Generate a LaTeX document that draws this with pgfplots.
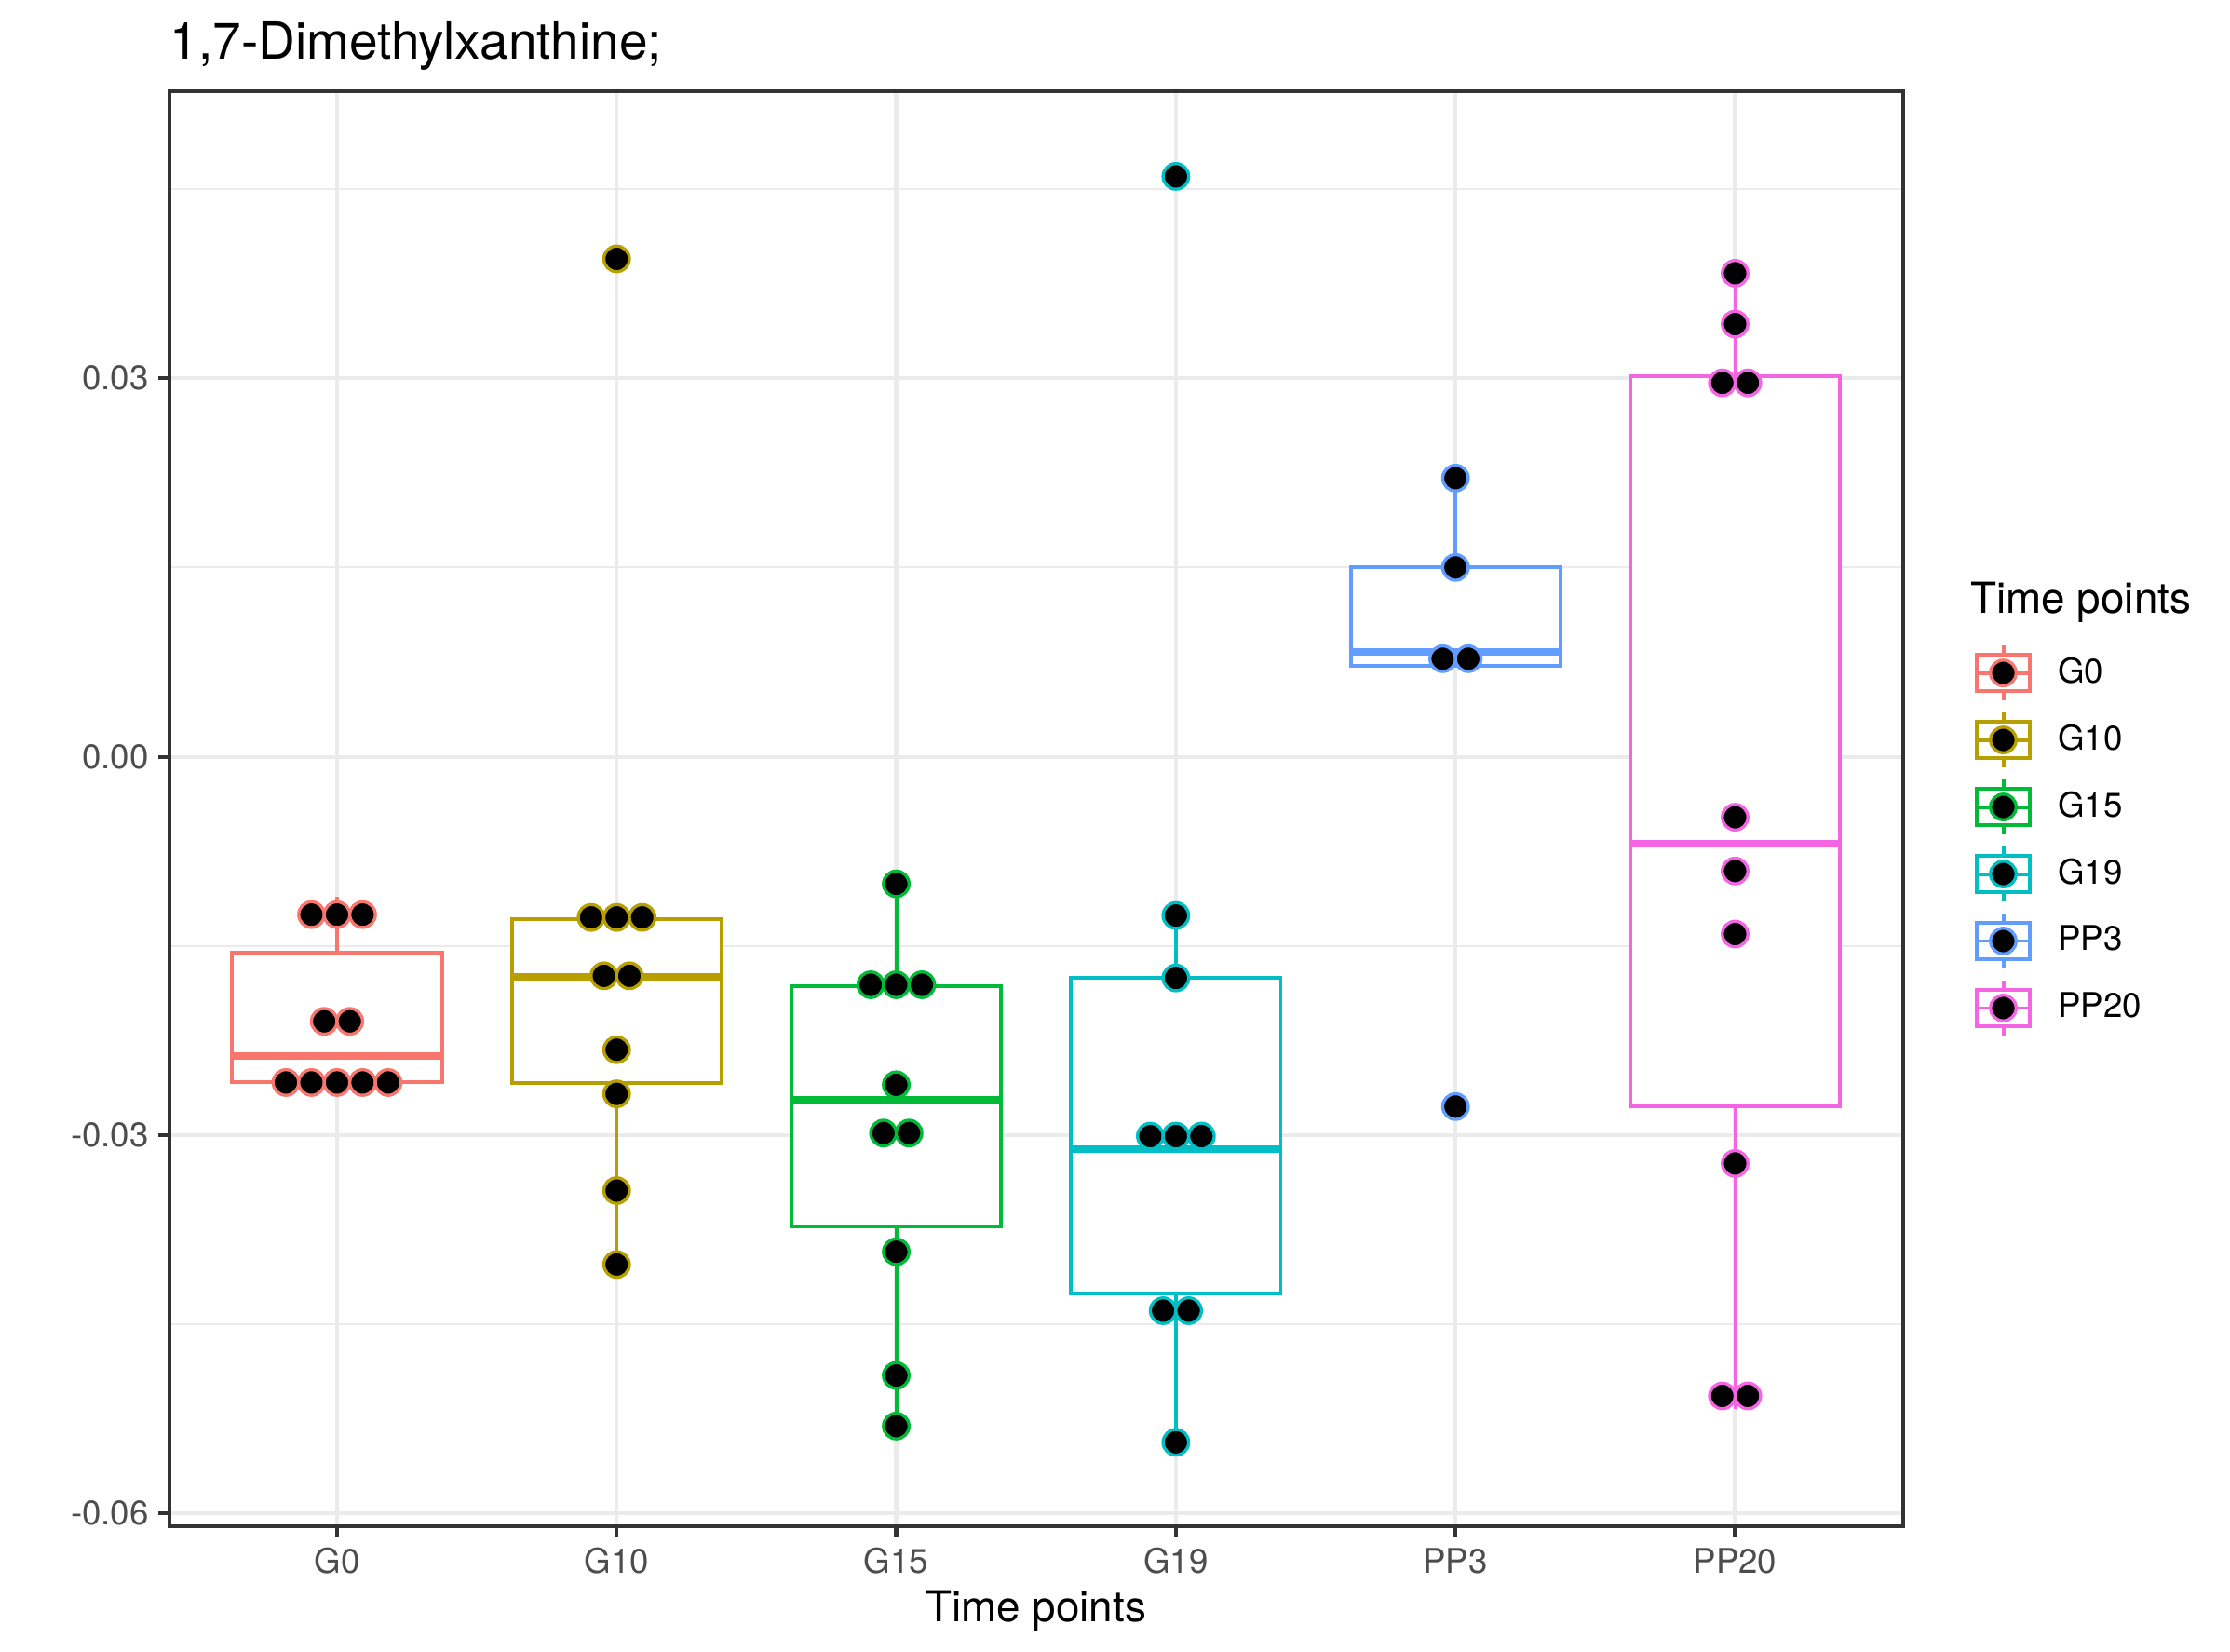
\documentclass[border=0pt]{standalone}
\usepackage{fontspec}
\setmainfont{TeX Gyre Heros}
\usepackage{pgfplots}
\pgfplotsset{compat=1.18}
\definecolor{cG0}{HTML}{F8766D}
\definecolor{cG10}{HTML}{B79F00}
\definecolor{cG15}{HTML}{00BA38}
\definecolor{cG19}{HTML}{00BFC4}
\definecolor{cPP3}{HTML}{619CFF}
\definecolor{cPP20}{HTML}{F564E3}
\definecolor{grid92}{HTML}{EBEBEB}
\definecolor{grey20}{HTML}{333333}
\definecolor{grey30}{HTML}{4D4D4D}
% #1 colour, #2 left, #3 centre, #4 right, #5 lower whisker, #6 q1, #7 median, #8 q3, #9 upper whisker
\newcommand{\gbox}[9]{%
  \addplot[#1, line width=0.95pt, forget plot] coordinates {(#3,#8) (#3,#9)};
  \addplot[#1, line width=0.95pt, forget plot] coordinates {(#3,#6) (#3,#5)};
  \addplot[#1, line width=0.95pt, fill=white, forget plot] coordinates {(#2,#6) (#4,#6) (#4,#8) (#2,#8)} -- cycle;
  \addplot[#1, line width=1.9pt, forget plot] coordinates {(#2,#7) (#4,#7)};
}
\pgfplotsset{
  mydots/.style={only marks, mark=*, forget plot, mark size=3.3pt,
    mark options={fill=black, draw=#1, line width=0.8pt}},
  keyimg/.style={legend image code/.code={
    \path[draw=none, fill=none] (0pt,-8.64pt) rectangle (17.28pt,8.64pt);
    \draw[line width=0.95pt, fill=white] (1.7pt,-4.6pt) rectangle (15.58pt,4.6pt);
    \draw[line width=0.95pt] (1.7pt,0pt) -- (15.58pt,0pt);
    \draw[line width=0.95pt] (8.64pt,4.6pt) -- (8.64pt,7pt);
    \draw[line width=0.95pt] (8.64pt,-4.6pt) -- (8.64pt,-7pt);
    \draw[line width=0.8pt, fill=black] (8.64pt,0pt) circle (3.3pt);
  }},
}
\begin{document}
\begin{tikzpicture}
\useasboundingbox (-43.64pt,-32.27pt) rectangle (531.35pt,393.47pt);
\begin{axis}[
  at={(0,0)}, anchor=south west,
  scale only axis, width=447pt, height=370pt, clip=false,
  xmin=0.4, xmax=6.6, ymin=-0.06101, ymax=0.05278,
  scaled y ticks=false,
  xtick={1,2,3,4,5,6}, xticklabels={G0,G10,G15,G19,PP3,PP20},
  ytick={-0.06,-0.03,0,0.03}, yticklabels={-0.06,-0.03,0.00,0.03},
  minor ytick={-0.045,-0.015,0.015,0.045},
  xmajorgrids, ymajorgrids, yminorgrids,
  major grid style={line width=1pt, color=grid92},
  minor grid style={line width=0.5pt, color=grid92},
  axis line style={line width=1pt, color=grey20},
  tick style={line width=1pt, color=grey20},
  major tick length=2.75pt, minor tick length=0pt,
  tick align=outside, xtick pos=bottom, ytick pos=left,
  ticklabel style={font=\fontsize{8.8}{10}\selectfont, text=grey30},
  xticklabel style={anchor=base, inner sep=0pt, yshift=-9.35pt},
  yticklabel style={anchor=east, inner sep=0pt, xshift=-2.35pt},
  xlabel={Time points},
  xlabel style={at={(axis description cs:0.5,0)}, anchor=base, inner sep=0pt, yshift=-24.7pt, font=\fontsize{11}{13}\selectfont},
  legend style={at={(axis description cs:1.0386,0.6179)}, anchor=north west, draw=none, fill=none,
    inner sep=0pt, outer sep=0pt, row sep=0pt, column sep=5.5pt,
    nodes={inner sep=0pt}, font=\fontsize{8.8}{10}\selectfont},
  legend cell align=left,
]
% boxes
\gbox{cG0}{0.625}{1}{1.375}{-0.02583}{-0.02583}{-0.02375}{-0.01556}{-0.01112}
\gbox{cG10}{1.625}{2}{2.375}{-0.04026}{-0.02589}{-0.01746}{-0.01286}{-0.0124}
\gbox{cG15}{2.625}{3}{3.375}{-0.05307}{-0.03724}{-0.0272}{-0.01821}{-0.01008}
\gbox{cG19}{3.625}{4}{4.375}{-0.05436}{-0.04256}{-0.03113}{-0.01754}{-0.01259}
\gbox{cPP3}{4.625}{5}{5.375}{0.00721}{0.00721}{0.00831}{0.01501}{0.02209}
\gbox{cPP20}{5.625}{6}{6.375}{-0.0517}{-0.0277}{-0.00687}{0.03016}{0.03833}
% dots
\addplot[mydots=cG0] coordinates {
(0.9086,-0.01252) (1.0,-0.01252) (1.0914,-0.01252)
(0.9543,-0.02098) (1.0457,-0.02098)
(0.8172,-0.02583) (0.9086,-0.02583) (1.0,-0.02583) (1.0914,-0.02583) (1.1828,-0.02583)};
\addplot[mydots=cG10] coordinates {
(2.0,0.03947)
(1.9086,-0.01274) (2.0,-0.01274) (2.0914,-0.01274)
(1.9543,-0.01737) (2.0457,-0.01737)
(2.0,-0.02323) (2.0,-0.02673) (2.0,-0.0344) (2.0,-0.04026)};
\addplot[mydots=cG15] coordinates {
(3.0,-0.01008)
(2.9086,-0.01808) (3.0,-0.01808) (3.0914,-0.01808)
(3.0,-0.02601)
(2.9543,-0.02984) (3.0457,-0.02984)
(3.0,-0.03925) (3.0,-0.04906) (3.0,-0.05307)};
\addplot[mydots=cG19] coordinates {
(4.0,0.04601) (4.0,-0.01259) (4.0,-0.01754)
(3.9086,-0.03008) (4.0,-0.03008) (4.0914,-0.03008)
(3.9543,-0.04392) (4.0457,-0.04392)
(4.0,-0.05436)};
\addplot[mydots=cPP3] coordinates {
(5.0,0.02209) (5.0,0.01501)
(4.9543,0.00777) (5.0457,0.00777)
(5.0,-0.02774)};
\addplot[mydots=cPP20] coordinates {
(6.0,0.03833) (6.0,0.0343)
(5.9543,0.02964) (6.0457,0.02964)
(6.0,-0.0048) (6.0,-0.00906) (6.0,-0.01406) (6.0,-0.03225)
(5.9543,-0.05068) (6.0457,-0.05068)};
% legend
\addlegendimage{cG0, keyimg} \addlegendentry{G0}
\addlegendimage{cG10, keyimg} \addlegendentry{G10}
\addlegendimage{cG15, keyimg} \addlegendentry{G15}
\addlegendimage{cG19, keyimg} \addlegendentry{G19}
\addlegendimage{cPP3, keyimg} \addlegendentry{PP3}
\addlegendimage{cPP20, keyimg} \addlegendentry{PP20}
\node[anchor=base west, inner sep=0pt, font=\fontsize{11}{13}\selectfont] at (axis description cs:1.0386,0.6363) {Time points};
\node[anchor=base west, inner sep=0pt, font=\fontsize{13.2}{16}\selectfont] at (axis description cs:0,1) [yshift=8.3pt] {1,7-Dimethylxanthine;};
\end{axis}
\end{tikzpicture}
\end{document}
